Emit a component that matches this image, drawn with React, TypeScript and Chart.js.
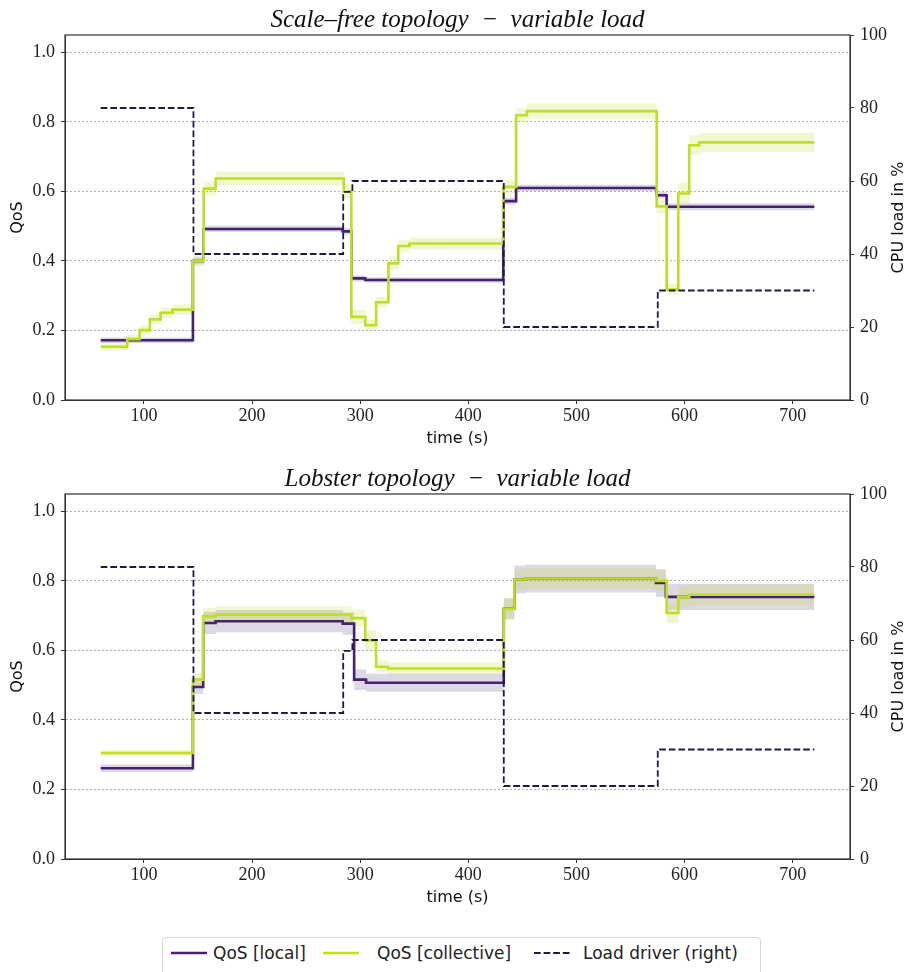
import React, { useEffect, useRef } from "react";
import { Chart, registerables } from "chart.js";

Chart.register(...registerables);

// ---------- Data ----------
const titleTop = "Scale\u2013free topology  \u2212  variable load";
const titleBottom = "Lobster topology  \u2212  variable load";

const xTicks = [100, 200, 300, 400, 500, 600, 700];
const qosTicks = [0.0, 0.2, 0.4, 0.6, 0.8, 1.0];
const cpuTicks = [0, 20, 40, 60, 80, 100];

// Load driver (shared by both experiments), CPU load in %
const loadTimes = [60, 145.8, 284.3, 292.8, 432.8, 575.2, 720];
const loadValues = [80, 40, 57, 60, 20, 30, 30];

// Scale-free topology: QoS [local]
const sfLocalTimes = [60, 145.3, 155.3, 283.8, 291.8, 304.7, 432.3, 444.2, 574.2, 583.4, 720];
const sfLocalValues = [0.172, 0.4, 0.492, 0.485, 0.35, 0.345, 0.572, 0.61, 0.589, 0.556, 0.556];
const sfLocalSpread = [0.008, 0.01, 0.009, 0.009, 0.009, 0.008, 0.01, 0.009, 0.009, 0.01, 0.01];

// Scale-free topology: QoS [collective]
const sfCollTimes = [60, 84.6, 96, 105.5, 115.4, 126.4, 145.3, 155.3, 166.3, 284.8, 291.8, 304.7, 314.7, 326.1, 335.2, 345.6, 432.3, 444.2, 454.2, 574.2, 583.4, 594.2, 604.3, 613.6, 720];
const sfCollValues = [0.153, 0.175, 0.201, 0.232, 0.251, 0.26, 0.4, 0.608, 0.637, 0.6, 0.239, 0.215, 0.281, 0.393, 0.443, 0.45, 0.613, 0.819, 0.831, 0.557, 0.318, 0.594, 0.733, 0.741, 0.741];
const sfCollSpread = [0.01, 0.012, 0.013, 0.015, 0.015, 0.015, 0.016, 0.02, 0.02, 0.02, 0.02, 0.015, 0.015, 0.02, 0.018, 0.017, 0.02, 0.02, 0.022, 0.02, 0.015, 0.03, 0.028, 0.028, 0.028];

// Lobster topology: QoS [local]
const lbLocalTimes = [60, 145.3, 154.8, 166.3, 283.8, 294.4, 305.4, 432.8, 442.6, 453.2, 573.5, 582.7, 720];
const lbLocalValues = [0.261, 0.495, 0.679, 0.684, 0.677, 0.516, 0.507, 0.72, 0.804, 0.807, 0.794, 0.754, 0.754];
const lbLocalSpread = [0.011, 0.02, 0.032, 0.032, 0.032, 0.03, 0.026, 0.03, 0.04, 0.04, 0.04, 0.038, 0.038];

// Lobster topology: QoS [collective]
const lbCollTimes = [60, 145.3, 154.8, 166.3, 291.8, 304.7, 314.7, 325.7, 432.8, 442.6, 453.2, 573.5, 583.4, 594.2, 604.3, 720];
const lbCollValues = [0.305, 0.516, 0.698, 0.703, 0.693, 0.629, 0.553, 0.548, 0.72, 0.804, 0.807, 0.8, 0.708, 0.754, 0.76, 0.76];
const lbCollSpread = [0.008, 0.02, 0.024, 0.024, 0.024, 0.03, 0.017, 0.017, 0.03, 0.03, 0.03, 0.03, 0.03, 0.03, 0.03, 0.03];

// ---------- Styles ----------
const LOCAL_COLOR = "#46226e";
const COLL_COLOR = "#bddf26";
const LOAD_COLOR = "#1f1b46";
const LOCAL_BAND = "rgba(70,34,110,0.18)";
const COLL_BAND = "rgba(189,223,38,0.22)";
const SERIF = '"Liberation Serif", "DejaVu Serif", serif';
const SANS = '"DejaVu Sans", sans-serif';

function toPoints(times: number[], values: number[], spread?: number[], sign = 0) {
  return times.map((t, i) => ({ x: t, y: values[i] + sign * (spread ? spread[i] : 0) }));
}

function buildConfig(title: string, lT: number[], lV: number[], lS: number[], cT: number[], cV: number[], cS: number[]): any {
  const lineBase = { pointRadius: 0, pointHoverRadius: 0, stepped: "before", fill: false, tension: 0 };
  const bandBase = { pointRadius: 0, pointHoverRadius: 0, stepped: "before", borderWidth: 0, borderColor: "transparent", tension: 0 };
  const decor = {
    id: "decor",
    afterDraw(chart: any) {
      const { ctx, chartArea: a } = chart;
      ctx.save();
      ctx.strokeStyle = "#333";
      ctx.lineWidth = 1.2;
      ctx.strokeRect(a.left, a.top, a.right - a.left, a.bottom - a.top);
      ctx.fillStyle = "#111";
      ctx.font = `italic 25px ${SERIF}`;
      ctx.textAlign = "center";
      ctx.textBaseline = "alphabetic";
      ctx.fillText(title, (a.left + a.right) / 2, 27);
      ctx.translate(899, (a.top + a.bottom) / 2);
      ctx.rotate(-Math.PI / 2);
      ctx.font = `16px ${SANS}`;
      ctx.textBaseline = "middle";
      ctx.fillText("CPU load in %", 0, 0);
      ctx.restore();
    },
  };
  return {
    type: "line",
    data: {
      datasets: [
        { ...lineBase, label: "Load driver (right)", data: toPoints(loadTimes, loadValues), yAxisID: "y2", borderColor: LOAD_COLOR, borderWidth: 1.8, borderDash: [6.7, 2.9], order: 0 },
        { ...lineBase, label: "QoS [collective]", data: toPoints(cT, cV), yAxisID: "y", borderColor: COLL_COLOR, borderWidth: 2.6, order: 1 },
        { ...lineBase, label: "QoS [local]", data: toPoints(lT, lV), yAxisID: "y", borderColor: LOCAL_COLOR, borderWidth: 2.6, order: 2 },
        { ...bandBase, label: "coll upper", data: toPoints(cT, cV, cS, 1), yAxisID: "y", fill: "+1", backgroundColor: COLL_BAND, order: 4 },
        { ...bandBase, label: "coll lower", data: toPoints(cT, cV, cS, -1), yAxisID: "y", fill: false, order: 4 },
        { ...bandBase, label: "local upper", data: toPoints(lT, lV, lS, 1), yAxisID: "y", fill: "+1", backgroundColor: LOCAL_BAND, order: 5 },
        { ...bandBase, label: "local lower", data: toPoints(lT, lV, lS, -1), yAxisID: "y", fill: false, order: 5 },
      ],
    },
    options: {
      animation: false,
      responsive: false,
      maintainAspectRatio: false,
      devicePixelRatio: 1,
      events: [],
      layout: { padding: { top: 35, left: 0, right: 0, bottom: 0 } },
      plugins: { legend: { display: false }, tooltip: { enabled: false }, title: { display: false } },
      scales: {
        x: {
          type: "linear",
          position: "bottom",
          min: 27,
          max: 753,
          afterBuildTicks: (s: any) => { s.ticks = xTicks.map((v) => ({ value: v })); },
          afterFit: (s: any) => { s.height = 59; },
          ticks: { font: { family: SERIF, size: 18 }, color: "#222", padding: 1, maxRotation: 0, autoSkip: false },
          grid: { drawOnChartArea: false, drawTicks: true, tickLength: 4, tickColor: "#333", tickWidth: 1 },
          border: { display: true, color: "#333", width: 1 },
          title: { display: true, text: "time (s)", font: { family: SANS, size: 16 }, color: "#111", padding: { top: 0, bottom: 11 } },
        },
        y: {
          type: "linear",
          position: "left",
          min: 0,
          max: 1.05,
          afterBuildTicks: (s: any) => { s.ticks = qosTicks.map((v) => ({ value: v })); },
          afterFit: (s: any) => { s.width = 65; },
          ticks: { font: { family: SERIF, size: 18 }, color: "#222", padding: 6, callback: (v: any) => Number(v).toFixed(1) },
          grid: { drawOnChartArea: true, color: "#9a9a9a", lineWidth: 0.8, drawTicks: true, tickLength: 4, tickColor: "#333", tickWidth: 1, tickBorderDash: [] },
          border: { display: true, color: "#333", width: 1, dash: [2, 2] },
          title: { display: true, text: "QoS", font: { family: SANS, size: 16 }, color: "#111", padding: { top: 8, bottom: 0 } },
        },
        y2: {
          type: "linear",
          position: "right",
          min: 0,
          max: 100,
          afterBuildTicks: (s: any) => { s.ticks = cpuTicks.map((v) => ({ value: v })); },
          afterFit: (s: any) => { s.width = 59; },
          ticks: { font: { family: SERIF, size: 18 }, color: "#222", padding: 6 },
          grid: { drawOnChartArea: false, drawTicks: true, tickLength: 4, tickColor: "#333", tickWidth: 1 },
          border: { display: true, color: "#333", width: 1 },
        },
      },
    },
    plugins: [decor],
  };
}

function TopoChart(props: { title: string; lT: number[]; lV: number[]; lS: number[]; cT: number[]; cV: number[]; cS: number[]; top: number }) {
  const ref = useRef<HTMLCanvasElement>(null);
  useEffect(() => {
    if (!ref.current) return;
    const chart = new Chart(ref.current, buildConfig(props.title, props.lT, props.lV, props.lS, props.cT, props.cV, props.cS));
    return () => chart.destroy();
  }, []);
  return (
    <canvas
      ref={ref}
      width={909}
      height={459}
      style={{ position: "absolute", left: 0, top: props.top, width: 909, height: 459, display: "block" }}
    />
  );
}

function Sample({ color, width, dash }: { color: string; width: number; dash?: string }) {
  return (
    <svg width={36} height={10} style={{ position: "absolute", top: 10, display: "block" }}>
      <line x1={0} y1={5} x2={36} y2={5} stroke={color} strokeWidth={width} strokeDasharray={dash} />
    </svg>
  );
}

export default function App() {
  const textStyle: React.CSSProperties = { position: "absolute", top: 4, fontFamily: SANS, fontSize: 17, color: "#222", whiteSpace: "nowrap", lineHeight: "22px" };
  return (
    <div style={{ position: "absolute", left: 0, top: 0, width: 909, height: 972, overflow: "hidden", background: "#fff" }}>
      <TopoChart title={titleTop} lT={sfLocalTimes} lV={sfLocalValues} lS={sfLocalSpread} cT={sfCollTimes} cV={sfCollValues} cS={sfCollSpread} top={0} />
      <TopoChart title={titleBottom} lT={lbLocalTimes} lV={lbLocalValues} lS={lbLocalSpread} cT={lbCollTimes} cV={lbCollValues} cS={lbCollSpread} top={459} />
      <div style={{ position: "absolute", left: 162, top: 937, width: 599, height: 44, border: "1px solid #d4d4d4", borderRadius: 4, boxSizing: "border-box" }}>
        <div style={{ position: "absolute", left: 8, top: 0 }}><Sample color={LOCAL_COLOR} width={2.6} /></div>
        <div style={{ ...textStyle, left: 50 }}>QoS [local]</div>
        <div style={{ position: "absolute", left: 160, top: 0 }}><Sample color={COLL_COLOR} width={2.6} /></div>
        <div style={{ ...textStyle, left: 214 }}>QoS [collective]</div>
        <div style={{ position: "absolute", left: 371, top: 0 }}><Sample color={LOAD_COLOR} width={1.8} dash="6.7 2.9" /></div>
        <div style={{ ...textStyle, left: 420 }}>Load driver (right)</div>
      </div>
    </div>
  );
}
